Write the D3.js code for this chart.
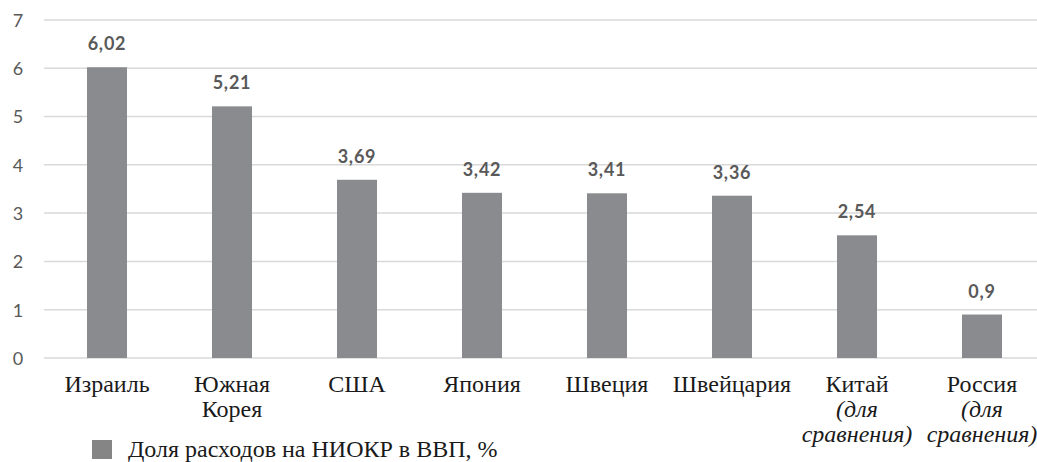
<!DOCTYPE html>
<html>
<head>
<meta charset="utf-8">
<script src="https://cdn.jsdelivr.net/npm/d3@7"></script>
<style>
  html, body { margin: 0; padding: 0; background: #fff; }
  svg { display: block; }
</style>
</head>
<body>
<svg id="chart" width="1037" height="462"></svg>
<script>
// R&D spending as a share of GDP, %
const countries = ["Израиль", "Южная Корея", "США", "Япония", "Швеция", "Швейцария", "Китай", "Россия"];
// label lines: [text, italic]
const labelLines = [
  [["Израиль", false]],
  [["Южная", false], ["Корея", false]],
  [["США", false]],
  [["Япония", false]],
  [["Швеция", false]],
  [["Швейцария", false]],
  [["Китай", false], ["(для", true], ["сравнения)", true]],
  [["Россия", false], ["(для", true], ["сравнения)", true]]
];
const values = [6.02, 5.21, 3.69, 3.42, 3.41, 3.36, 2.54, 0.9];
const valueLabels = ["6,02", "5,21", "3,69", "3,42", "3,41", "3,36", "2,54", "0,9"];
const yTicks = [0, 1, 2, 3, 4, 5, 6, 7];
const legendLabel = "Доля расходов на НИОКР в ВВП, %";

const svg = d3.select("#chart");

const x = d3.scaleBand()
  .domain(countries)
  .range([44.5, 1044.5])
  .paddingInner(0.68)
  .paddingOuter(0.34);

const y = d3.scaleLinear()
  .domain([0, 7])
  .range([358, 19.9]);

// horizontal gridlines
svg.append("g")
  .selectAll("line")
  .data(yTicks)
  .join("line")
  .attr("x1", 44)
  .attr("x2", 1037)
  .attr("y1", d => y(d))
  .attr("y2", d => y(d))
  .attr("stroke", "#d9d9d9")
  .attr("stroke-width", 1.5);

// y axis labels
const yAxis = svg.append("g")
  .attr("transform", "translate(18,0)")
  .call(d3.axisLeft(y).tickValues(yTicks).tickFormat(d3.format("d")).tickSize(0).tickPadding(0));
yAxis.select(".domain").remove();
yAxis.selectAll("text")
  .attr("text-anchor", "middle")
  .attr("fill", "#595959")
  .attr("font-family", "Lato, 'Open Sans', sans-serif")
  .attr("font-size", 18)
  .attr("dy", "0.35em");

// bars
svg.append("g")
  .selectAll("rect")
  .data(values)
  .join("rect")
  .attr("x", (d, i) => x(countries[i]))
  .attr("width", x.bandwidth())
  .attr("y", d => y(d))
  .attr("height", d => y(0) - y(d))
  .attr("fill", "#8a8b8e");

// value labels
svg.append("g")
  .selectAll("text")
  .data(values)
  .join("text")
  .attr("x", (d, i) => x(countries[i]) + x.bandwidth() / 2)
  .attr("y", d => y(d) - 17)
  .attr("text-anchor", "middle")
  .attr("fill", "#595959")
  .attr("font-family", "Lato, 'Open Sans', sans-serif")
  .attr("font-weight", "bold")
  .attr("font-size", 18)
  .attr("letter-spacing", 0.8)
  .text((d, i) => valueLabels[i]);

// category labels
const cat = svg.append("g")
  .selectAll("text")
  .data(countries)
  .join("text")
  .attr("x", d => x(d) + x.bandwidth() / 2)
  .attr("y", 392)
  .attr("text-anchor", "middle")
  .attr("fill", "#1a1a1a")
  .attr("font-family", "'Liberation Serif', 'Times New Roman', serif")
  .attr("font-size", 24);
cat.each(function(d, i) {
  const t = d3.select(this);
  labelLines[i].forEach(([line, italic], k) => {
    t.append("tspan")
      .attr("x", x(d) + x.bandwidth() / 2)
      .attr("dy", k === 0 ? 0 : 25)
      .attr("font-style", italic ? "italic" : "normal")
      .text(line);
  });
});

// legend
svg.append("rect")
  .attr("x", 92)
  .attr("y", 440)
  .attr("width", 20)
  .attr("height", 19)
  .attr("fill", "#858585");
svg.append("text")
  .attr("x", 128)
  .attr("y", 457)
  .attr("fill", "#1a1a1a")
  .attr("font-family", "'Liberation Serif', 'Times New Roman', serif")
  .attr("font-size", 24)
  .text(legendLabel);
</script>
</body>
</html>
